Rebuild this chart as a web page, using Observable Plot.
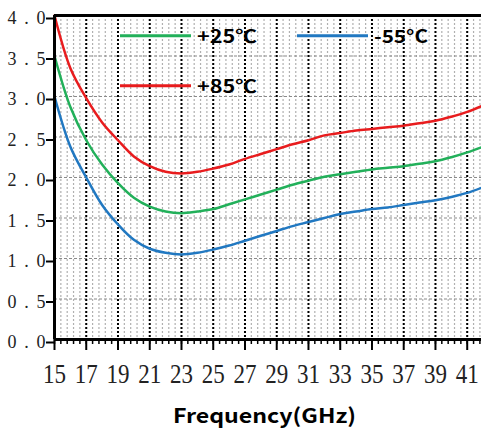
<!DOCTYPE html>
<html><head><meta charset="utf-8">
<script src="https://cdn.jsdelivr.net/npm/d3@7"></script>
<script src="https://cdn.jsdelivr.net/npm/@observablehq/plot@0.6"></script>
<style>body{margin:0;background:#fff}</style>
</head><body><div id="chart"></div>
<script>
const freq   = [15,16,17,18,19,20,21,22,23,24,25,26,27,28,29,30,31,32,33,34,35,36,37,38,39,40,41,42];
const p85    = [4.00,3.35,2.98,2.68,2.46,2.26,2.14,2.07,2.05,2.07,2.11,2.16,2.23,2.29,2.35,2.41,2.46,2.52,2.55,2.58,2.60,2.62,2.64,2.67,2.70,2.75,2.81,2.89];
const p25    = [3.50,2.87,2.46,2.16,1.93,1.75,1.64,1.58,1.56,1.58,1.61,1.67,1.73,1.79,1.85,1.91,1.96,2.01,2.04,2.07,2.10,2.12,2.14,2.17,2.20,2.25,2.31,2.38];
const m55    = [3.00,2.38,2.00,1.66,1.42,1.23,1.12,1.07,1.05,1.07,1.11,1.16,1.22,1.28,1.34,1.40,1.45,1.50,1.55,1.58,1.61,1.63,1.66,1.69,1.72,1.76,1.81,1.88];
const seriesNames  = ["+25℃", "-55°C", "+85℃"];
const seriesColors = ["#22b05a", "#2178c1", "#e81c1e"];
const xTicks = [15,17,19,21,23,25,27,29,31,33,35,37,39,41];
const yTicks = [0,0.5,1,1.5,2,2.5,3,3.5,4];
const xLabel = "Frequency(GHz)";

const minorX = d3.range(0, 68).map(i => 15 + i * 0.4).filter(v => v <= 41.9);
const majorGrid = xTicks.filter(v => v > 15);
const hGrid = yTicks.filter(v => v > 0 && v < 4);

const rows = (vals, name) => freq.map((f, i) => ({f, v: vals[i], s: name}));
const data = [...rows(p25, seriesNames[0]), ...rows(m55, seriesNames[1]), ...rows(p85, seriesNames[2])];

const chart = Plot.plot({
  width: 481, height: 431,
  marginLeft: 54, marginRight: 0, marginTop: 15, marginBottom: 92,
  x: {domain: [15, 41.9]},
  y: {domain: [0, 4]},
  color: {domain: seriesNames, range: seriesColors},
  style: {background: "#fff", overflow: "visible"},
  marks: [
    Plot.gridX(minorX, {stroke: "#b0b0b0", strokeOpacity: 1, strokeWidth: 1.2, strokeDasharray: "2,2"}),
    Plot.gridY(hGrid, {stroke: "#8a8a8a", strokeOpacity: 1, strokeWidth: 1.2, strokeDasharray: "3,2"}),
    Plot.gridX(majorGrid, {stroke: "#000", strokeOpacity: 1, strokeWidth: 2, strokeDasharray: "2,2"}),
    Plot.line(data, {x: "f", y: "v", z: "s", stroke: "s", strokeWidth: 2.5, curve: "catmull-rom"}),
    Plot.ruleX([15], {strokeWidth: 3}),
    Plot.ruleY([0, 4], {strokeWidth: 3}),
    Plot.axisX(minorX, {tickSize: 5, strokeWidth: 1.5, tickFormat: () => "", label: null}),
    Plot.axisX(xTicks, {tickSize: 11, tickPadding: 13, strokeWidth: 2, fontSize: 27,
      fill: "#222", label: null, tickFormat: d => String(d)}),
    Plot.axisY(yTicks, {tickSize: 8, tickPadding: 1, strokeWidth: 2, fontSize: 18, dy: 3,
      fill: "#222", label: null, tickFormat: d => d.toFixed(1)})
  ]
});

document.getElementById("chart").appendChild(chart);
const svg = d3.select(chart);
const serif = "'Liberation Serif', 'DejaVu Serif', serif";
const sans = "'Noto Sans CJK SC', 'DejaVu Sans', sans-serif";

chart.querySelectorAll("text").forEach(t => {
  const s = t.textContent.trim();
  if (!s) return;
  t.style.fontFamily = serif;
  t.style.fill = "#222";
  if (s.includes(".")) {
    t.style.fontSize = "18px";
    t.setAttribute("textLength", 38);
    t.setAttribute("lengthAdjust", "spacing");
  } else {
    t.style.fontSize = "27px";
    t.setAttribute("textLength", 23);
    t.setAttribute("lengthAdjust", "spacingAndGlyphs");
  }
});

// legend
const leg = [
  {name: seriesNames[0], color: seriesColors[0], x: 120, y: 35.7, tl: 60},
  {name: seriesNames[1], color: seriesColors[1], x: 297, y: 35.7, tl: 54},
  {name: seriesNames[2], color: seriesColors[2], x: 120, y: 85.7, tl: 60}
];
const lg = svg.append("g").attr("class", "legend");
leg.forEach(d => {
  lg.append("line").attr("x1", d.x).attr("x2", d.x + 71).attr("y1", d.y).attr("y2", d.y)
    .attr("stroke", d.color).attr("stroke-width", 3);
  lg.append("text").attr("x", d.x + 77).attr("y", d.y + 7.3)
    .attr("text-anchor", "start").style("text-anchor", "start")
    .style("font-family", sans).style("font-weight", 700)
    .style("font-size", "18px").attr("fill", "#000")
    .attr("textLength", d.tl).attr("lengthAdjust", "spacingAndGlyphs").text(d.name);
});

svg.append("text").attr("x", 264.5).attr("y", 423).attr("text-anchor", "middle")
  .style("font-family", sans).style("font-weight", 700)
  .style("font-size", "20px").attr("fill", "#000")
  .attr("textLength", 183).attr("lengthAdjust", "spacingAndGlyphs").text(xLabel);
</script></body></html>
